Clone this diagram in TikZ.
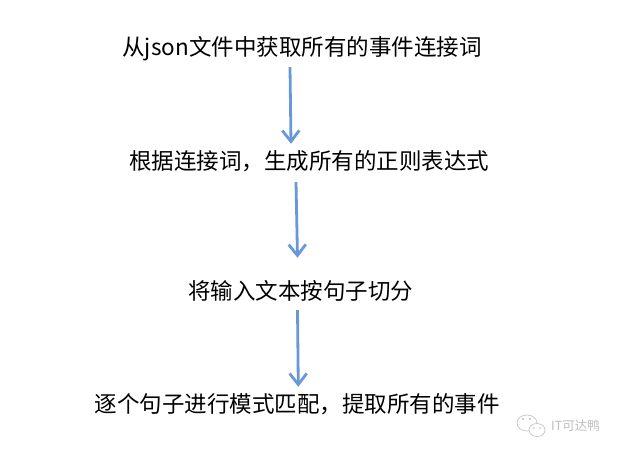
\documentclass[tikz,border=0pt]{standalone}
\usepackage{fontspec}
\setmainfont{Noto Sans CJK SC}
\usetikzlibrary{arrows.meta}
\definecolor{arrblue}{RGB}{104,152,216}
\definecolor{wmgray}{RGB}{190,190,190}
\begin{document}
\begin{tikzpicture}[x=1pt,y=-1pt,
  lbl/.style={inner sep=0pt, text height=19pt, text depth=2pt, font=\fontsize{22.5}{26}\selectfont},
  arr/.style={draw=arrblue, line width=2.8pt, -{Straight Barb[length=11pt,width=17pt,line width=2.8pt]}},
  wm/.style={draw=wmgray, line width=0.6pt}]
\useasboundingbox (0,0) rectangle (629,454);
\fill[white] (0,0) rectangle (629,454);
\node[lbl] (t1) at (302,47.5) {从json文件中获取所有的事件连接词};
\node[lbl] (t2) at (309,161) {根据连接词，生成所有的正则表达式};
\node[lbl] (t3) at (300.5,291) {将输入文本按句子切分};
\node[lbl] (t4) at (297,404) {逐个句子进行模式匹配，提取所有的事件};
\draw[arr] ([xshift=-12pt,yshift=-9pt]t1.south) -- ([xshift=-18pt,yshift=6.5pt]t2.north);
\draw[arr] ([xshift=-13pt,yshift=-10.5pt]t2.south) -- ([xshift=-3pt,yshift=22.5pt]t3.north);
\draw[arr] ([xshift=-3pt,yshift=-8.5pt]t3.south) -- ([xshift=1.3pt,yshift=6.5pt]t4.north);
% watermark
\draw[wm] (527,423) ellipse [x radius=10, y radius=8];
\fill[white] (537,430) ellipse [x radius=8.5, y radius=7];
\draw[wm] (537,430) ellipse [x radius=8, y radius=6.5];
\fill[wmgray] (523,419) circle (1.1) (530,419) circle (1.1) (534,428) circle (0.9) (540,428) circle (0.9);
\node[inner sep=0pt, text=wmgray, font=\fontsize{12.5}{14}\selectfont, anchor=west] (wmt) at (551,426) {IT可达鸭};
\end{tikzpicture}
\end{document}
